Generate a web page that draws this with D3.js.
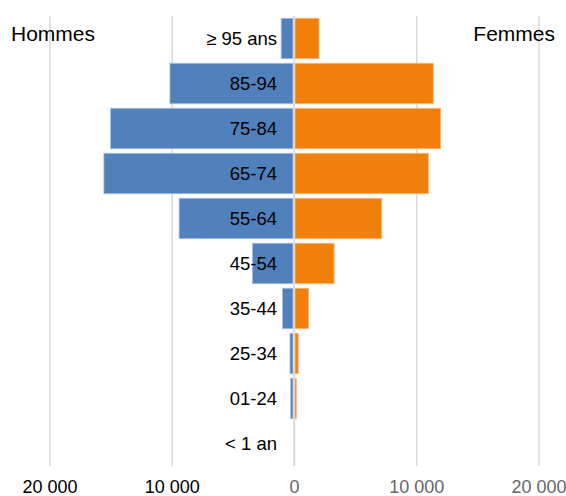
<!DOCTYPE html>
<html>
<head>
<meta charset="utf-8">
<script src="https://cdn.jsdelivr.net/npm/d3@7"></script>
<style>
  html, body { margin: 0; padding: 0; background: #fff; }
  svg { display: block; font-family: "Liberation Sans", Arial, sans-serif; }
</style>
</head>
<body>
<svg id="chart" width="566" height="496"></svg>
<script>
// Age groups, oldest at the top
const ageGroups = ["≥ 95 ans", "85-94", "75-84", "65-74", "55-64", "45-54", "35-44", "25-34", "01-24", "< 1 an"];
const hommes = [1050, 10150, 15000, 15550, 9400, 3400, 950, 330, 270, 0];
const femmes = [2050, 11400, 12000, 11000, 7180, 3280, 1200, 350, 190, 0];
const tickValues = [-20000, -10000, 0, 10000, 20000];
const sideLabels = { left: "Hommes", right: "Femmes" };

const svg = d3.select("#chart");

const x = d3.scaleLinear().domain([-20000, 20000]).range([49.5, 538.5]);
const y = d3.scaleBand().domain(ageGroups).range([16, 466]).paddingInner(0.1).paddingOuter(0.05);

const fmt = d3.formatLocale({ decimal: ",", thousands: " ", grouping: [3], currency: ["", " €"] }).format(",d");

// Vertical gridlines
const grid = svg.append("g")
  .attr("transform", `translate(0,${466})`)
  .call(d3.axisBottom(x).tickValues(tickValues).tickSize(-450).tickFormat(""));
grid.select(".domain").remove();
grid.selectAll("line").attr("stroke", "#d9d9d9").attr("stroke-width", 1.5);

// Bars
const rows = ageGroups.map((g, i) => ({ g, h: hommes[i], f: femmes[i] }));

svg.append("g").selectAll("rect")
  .data(rows)
  .join("rect")
  .attr("x", d => x(-d.h))
  .attr("width", d => Math.max(0, x(0) - x(-d.h) - 1))
  .attr("y", d => y(d.g))
  .attr("height", y.bandwidth())
  .attr("fill", "#5181bc")
  .attr("stroke", "#a9c0df")
  .attr("stroke-width", d => d.h > 0 ? 0.8 : 0);

svg.append("g").selectAll("rect")
  .data(rows)
  .join("rect")
  .attr("x", d => x(0) + 1)
  .attr("width", d => Math.max(0, x(d.f) - x(0) - 1))
  .attr("y", d => y(d.g))
  .attr("height", y.bandwidth())
  .attr("fill", "#f0800b")
  .attr("stroke", "#f7bf85")
  .attr("stroke-width", d => d.f > 0 ? 0.8 : 0);

// Zero line on top of the bars
svg.append("line")
  .attr("x1", x(0)).attr("x2", x(0))
  .attr("y1", 16).attr("y2", 466)
  .attr("stroke", "#d9d9d9").attr("stroke-width", 1.5);

// Age group labels
svg.append("g").selectAll("text")
  .data(ageGroups)
  .join("text")
  .attr("x", 277)
  .attr("y", d => y(d) + y.bandwidth() / 2)
  .attr("dy", "0.36em")
  .attr("text-anchor", "end")
  .attr("font-size", 18.5)
  .attr("fill", "#000")
  .text(d => d);

// Axis labels
const axis = svg.append("g")
  .attr("transform", "translate(0,466)")
  .call(d3.axisBottom(x).tickValues(tickValues).tickSize(0).tickPadding(0)
    .tickFormat(v => fmt(Math.abs(v))));
axis.select(".domain").remove();
axis.selectAll("text")
  .attr("y", 27)
  .attr("dy", 0)
  .attr("font-family", "Liberation Sans, Arial, sans-serif")
  .attr("font-size", 18)
  .attr("fill", d => d < 0 ? "#000" : "#666");

// Side titles
svg.append("text")
  .attr("x", 11).attr("y", 41)
  .attr("font-size", 21)
  .attr("fill", "#000")
  .text(sideLabels.left);
svg.append("text")
  .attr("x", 555).attr("y", 41)
  .attr("text-anchor", "end")
  .attr("font-size", 21)
  .attr("fill", "#000")
  .text(sideLabels.right);
</script>
</body>
</html>
